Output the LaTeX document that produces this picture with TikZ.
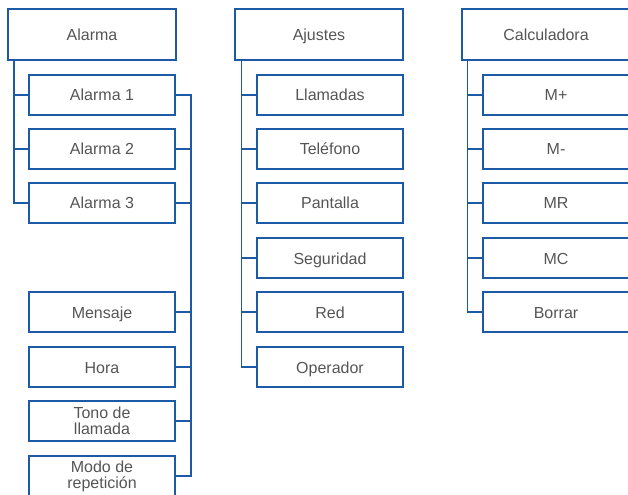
\documentclass[tikz,border=0pt]{standalone}
\usepackage{fontspec}
\setmainfont{Liberation Sans}
\definecolor{lineblue}{HTML}{1C5AA6}
\definecolor{txtgray}{HTML}{555555}
\begin{document}
\begin{tikzpicture}[x=1bp,y=-1bp,
  conn/.style={draw=lineblue,line width=1.5bp},
  boxbase/.style={draw=lineblue,line width=1.5bp,inner sep=0pt,align=center,text=txtgray,font=\fontsize{16bp}{16bp}\selectfont},
  oneline/.style={text height=12bp,text depth=0bp},
  parentbox/.style={boxbase,oneline,minimum width=168bp,minimum height=51bp},
  childbox/.style={boxbase,oneline,minimum width=146bp,minimum height=40bp},
  twobox/.style={boxbase,minimum width=146bp,minimum height=40bp}]
\useasboundingbox (0,0) rectangle (628,495);
\begin{scope}
\clip (0,0) rectangle (628,495);
% Alarma
\node[parentbox] (alarma) at (92,34.5) {Alarma};
\node[childbox] (a1) at (102,95) {Alarma 1};
\node[childbox] (a2) at (102,149) {Alarma 2};
\node[childbox] (a3) at (102,203) {Alarma 3};
\node[childbox] (m1) at (102,312) {Mensaje};
\node[childbox] (m2) at (102,367) {Hora};
\node[twobox] (m3) at (102,421) {Tono de\\llamada};
\node[twobox] (m4) at (102,476) {Modo de\\repetición};
\foreach \c in {a1,a2,a3}
  \draw[conn] ([xshift=7bp]alarma.south west) |- (\c.west);
\draw[conn] (a1.east) -- ++(15,0) |- (m4.east);
\foreach \c in {a2,a3,m1,m2,m3}
  \draw[conn] (\c.east) -- ++(15,0);
% Ajustes
\node[parentbox] (ajustes) at (319,34.5) {Ajustes};
\node[childbox] (j1) at (330,95) {Llamadas};
\node[childbox] (j2) at (330,149) {Teléfono};
\node[childbox] (j3) at (330,203) {Pantalla};
\node[childbox] (j4) at (330,258) {Seguridad};
\node[childbox] (j5) at (330,312) {Red};
\node[childbox] (j6) at (330,367) {Operador};
\foreach \c in {j1,j2,j3,j4,j5,j6}
  \draw[conn] ([xshift=7bp]ajustes.south west) |- (\c.west);
% Calculadora
\node[parentbox] (calc) at (546,34.5) {Calculadora};
\node[childbox] (c1) at (556,95) {M+};
\node[childbox] (c2) at (556,149) {M-};
\node[childbox] (c3) at (556,203) {MR};
\node[childbox] (c4) at (556,258) {MC};
\node[childbox] (c5) at (556,312) {Borrar};
\foreach \c in {c1,c2,c3,c4,c5}
  \draw[conn] ([xshift=6bp]calc.south west) |- (\c.west);
\end{scope}
\end{tikzpicture}
\end{document}
